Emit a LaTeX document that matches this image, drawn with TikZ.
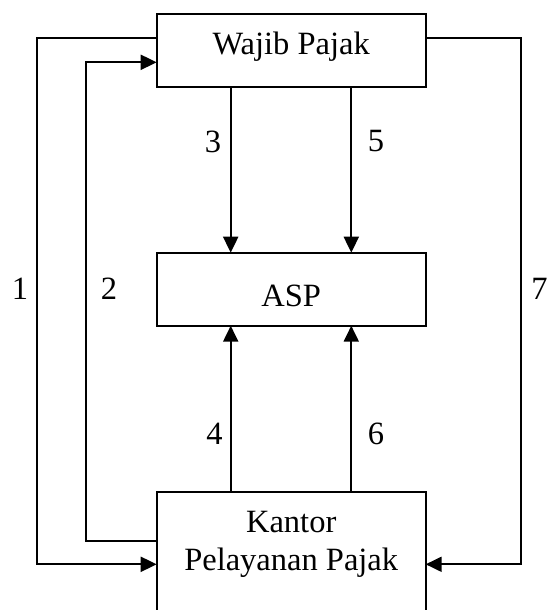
\documentclass[tikz,border=0pt]{standalone}
\usepackage{fontspec}
\setmainfont{Liberation Serif}
\usetikzlibrary{arrows.meta}
\begin{document}
\begin{tikzpicture}[x=1pt,y=-1pt,
  box/.style={draw, line width=2pt, inner sep=0pt, outer sep=0pt, minimum width=269pt,
    font=\fontsize{32.5}{38}\selectfont},
  conn/.style={line width=2pt, -{Triangle[length=16pt,width=15pt]}},
  num/.style={font=\fontsize{32.5}{38}\selectfont, inner sep=0pt, anchor=base}]
\useasboundingbox (0,0) rectangle (549,610);
% boxes
\node[box, text height=41pt, text depth=31.7pt, anchor=base] (wp) at (291.2,55) {Wajib Pajak};
\node[box, text height=54pt, text depth=19pt, anchor=base] (asp) at (291.2,306.7) {ASP};
\node[box, text height=39.7pt, text depth=100pt, anchor=base] (kp) at (291.2,532)
  {\begin{tabular}[t]{@{}c@{}}Kantor\\Pelayanan Pajak\end{tabular}};
% helper coordinates
\coordinate (c3) at (230.7,0);
\coordinate (c5) at (351.3,0);
\coordinate (l1t) at (36.7,38.3);
\coordinate (l1b) at (36.7,564.3);
\coordinate (l2t) at (85.7,62.3);
\coordinate (l2b) at (85.7,541);
\coordinate (l7t) at (521.3,38.3);
\coordinate (l7b) at (521.3,564.3);
% vertical connectors
\draw[conn] (c3 |- wp.south) -- (c3 |- asp.north);
\draw[conn] (c5 |- wp.south) -- (c5 |- asp.north);
\draw[conn] (c3 |- kp.north) -- (c3 |- asp.south);
\draw[conn] (c5 |- kp.north) -- (c5 |- asp.south);
% loops
\draw[conn] (l1t -| wp.west) -- (l1t) -- (l1b) -- (l1b -| kp.west);
\draw[conn] (l2b -| kp.west) -- (l2b) -- (l2t) -- (l2t -| wp.west);
\draw[conn] (l7t -| wp.east) -- (l7t) -- (l7b) -- (l7b -| kp.east);
% labels
\node[num] (n1) at (20,299) {1};
\node[num] (n2) at (109,299) {2};
\node[num] (n7) at (539.5,299) {7};
\node[num] (n3) at (213,152) {3};
\node[num] (n5) at (376,151) {5};
\node[num] (n4) at (214.5,444) {4};
\node[num] (n6) at (376,444) {6};
\end{tikzpicture}
\end{document}
